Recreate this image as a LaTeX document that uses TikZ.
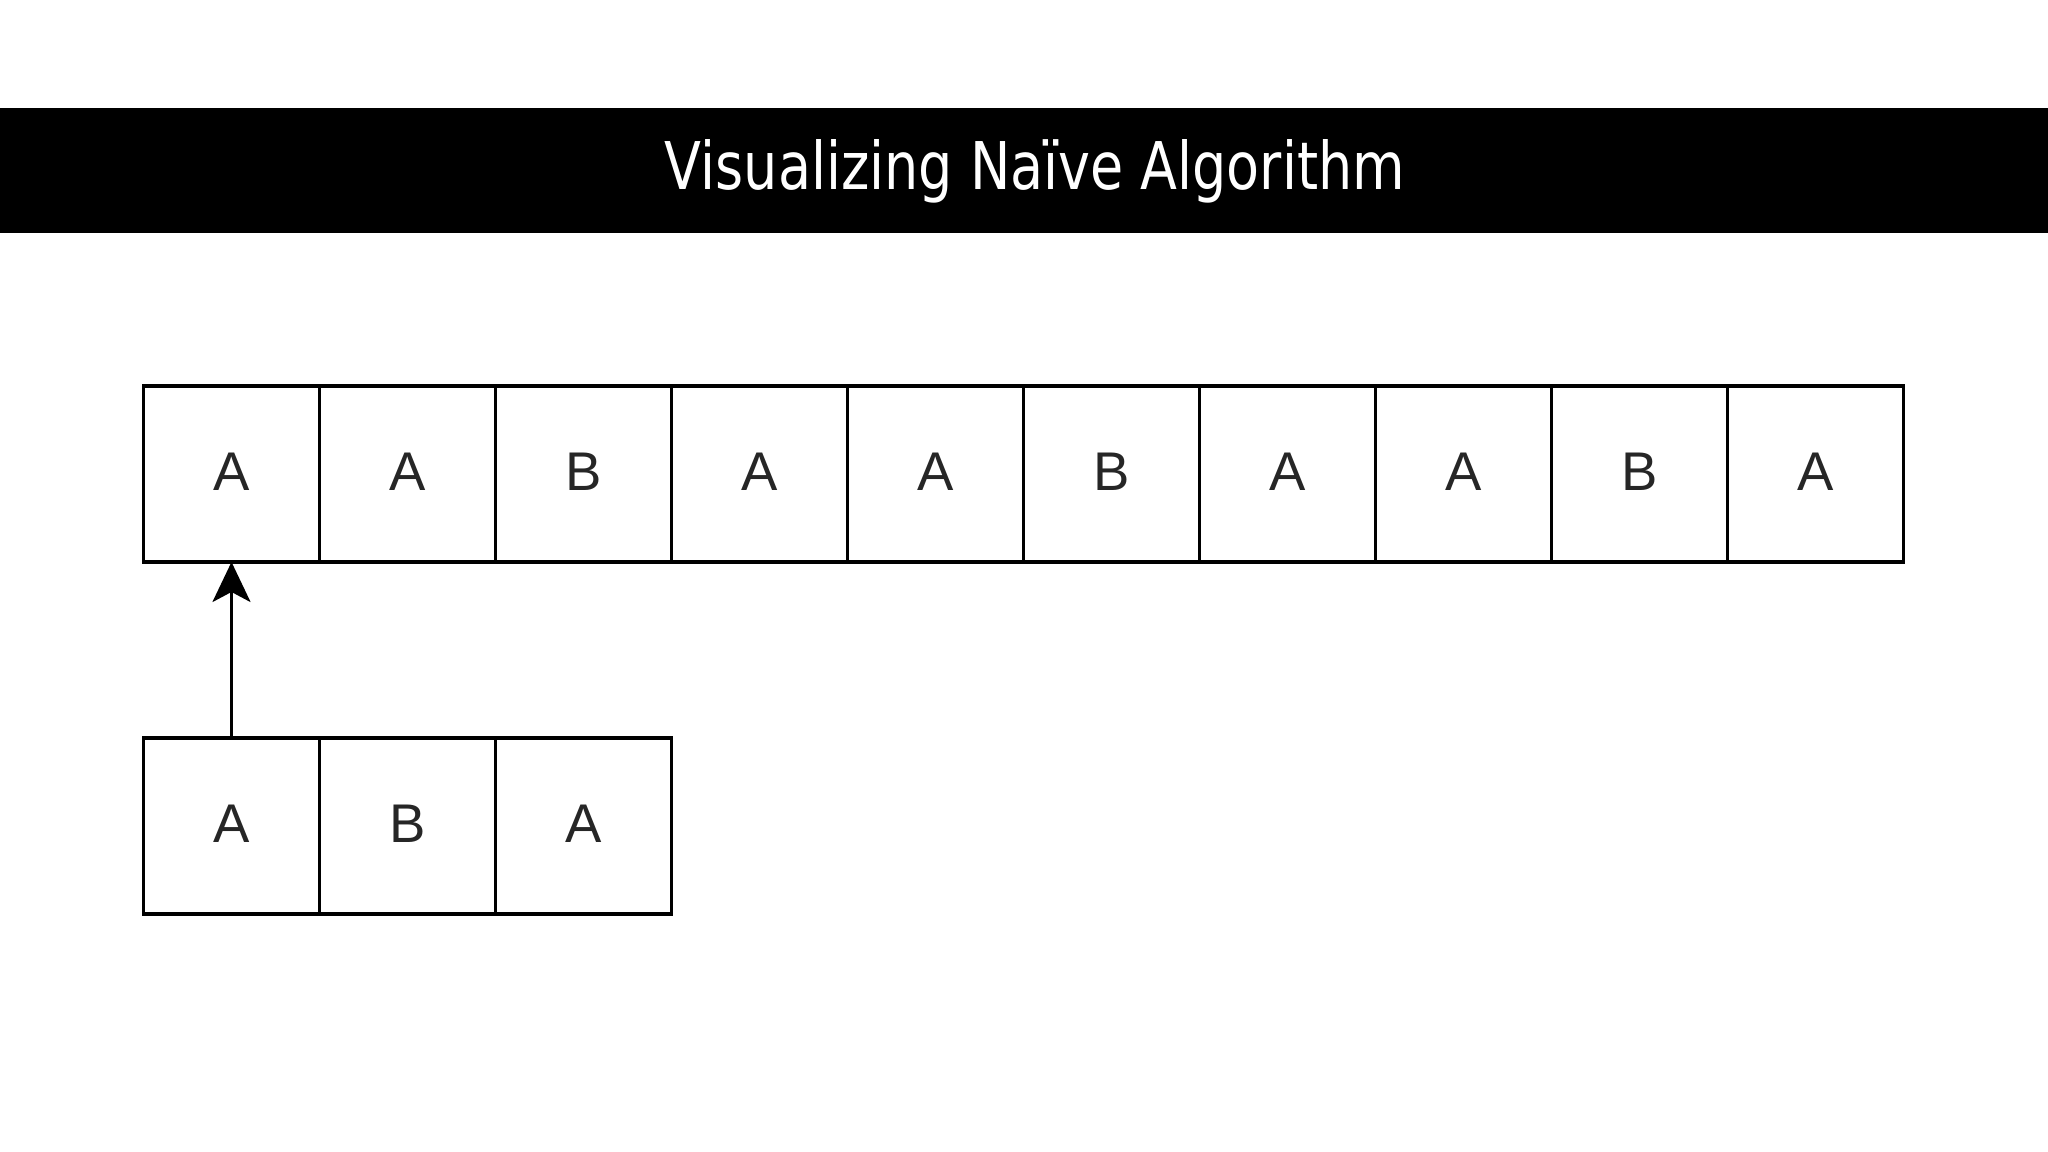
\documentclass[tikz,border=0pt]{standalone}
\usepackage{fontspec}
\setmainfont{Liberation Sans}
\newfontfamily\titlefont{DejaVu Sans}
\usetikzlibrary{arrows.meta}
\tikzset{
  cellbox/.style={draw=black, line width=0.9pt, minimum width=1.76cm, minimum height=1.76cm,
    inner sep=0pt, outer sep=0pt, font=\fontsize{15.5}{18}\selectfont, text=black!85},
  pointer/.style={draw=black, line width=0.9pt, -{Stealth[length=0.4cm, width=0.38cm, inset=0.1cm]}},
}
\begin{document}
\begin{tikzpicture}[x=1cm,y=1cm]
\useasboundingbox (0,0) rectangle (20.48,-11.52);
\fill[white] (0,0) rectangle (20.48,-11.52);
% title bar
\fill[black] (0,-1.08) rectangle (20.48,-2.33);
\node[text=white, inner sep=0pt] (title) at (10.35,-1.71)
  {\resizebox{7.4cm}{0.5cm}{\titlefont Visualizing Naïve Algorithm}};
% text row
\foreach \l [count=\i] in {A,A,B,A,A,B,A,A,B,A} {
  \node[cellbox] (t\i) at ({1.435+0.88+1.76*(\i-1)},-4.74) {\raisebox{0.05cm}{\l}};
}
% pattern row
\foreach \l [count=\i] in {A,B,A} {
  \node[cellbox] (p\i) at ({1.435+0.88+1.76*(\i-1)},-8.26) {\raisebox{0.05cm}{\l}};
}
\draw[pointer] (p1.north) -- (t1.south);
\end{tikzpicture}
\end{document}
